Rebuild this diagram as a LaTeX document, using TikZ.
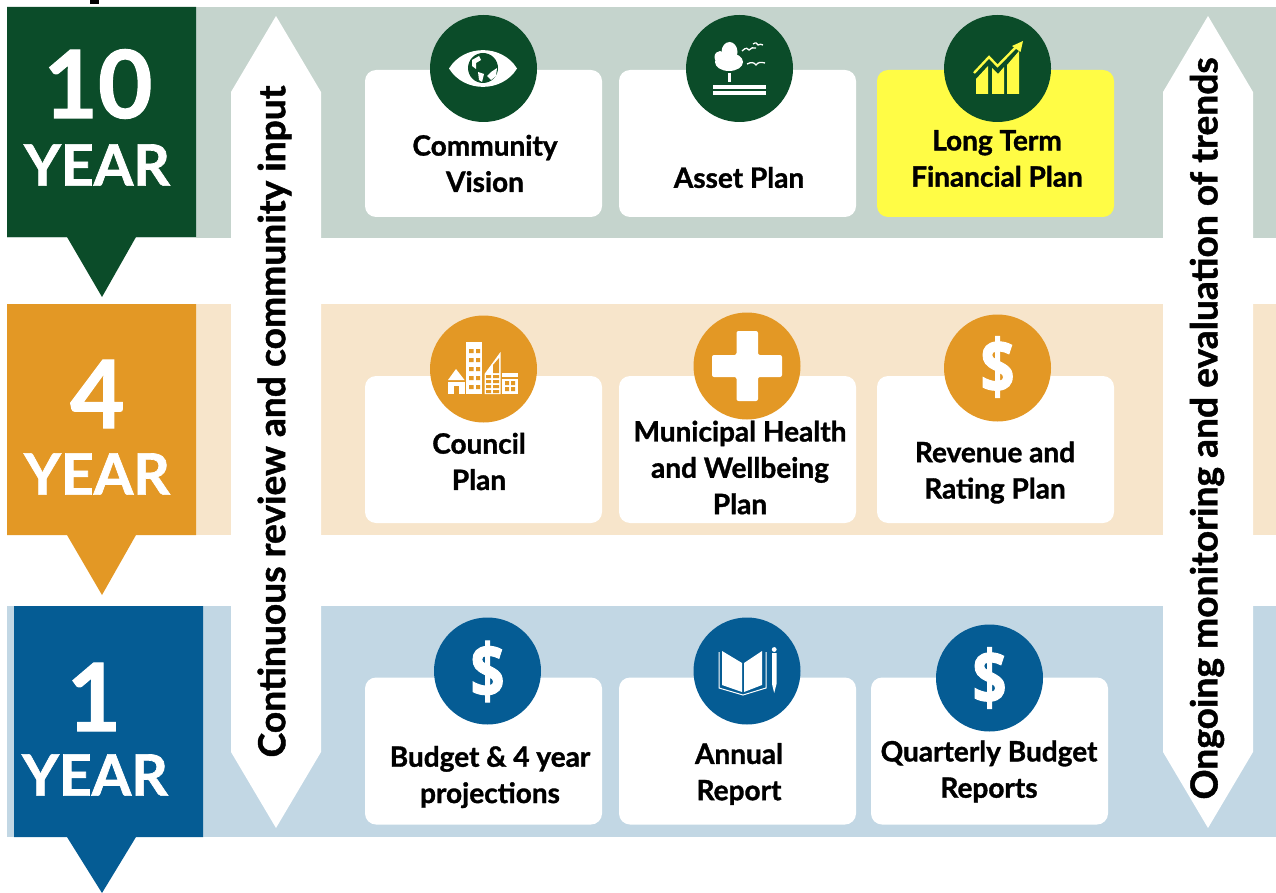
\documentclass[tikz,border=0pt]{standalone}
\usepackage{fontspec}
\setmainfont{Lato}[BoldFeatures={FakeBold=1.2}]
\newfontfamily\iconfont{Open Sans}[BoldFeatures={FakeBold=1.5}]
\definecolor{greendark}{HTML}{0B4C29}
\definecolor{greenpale}{HTML}{C5D4CD}
\definecolor{orangedark}{HTML}{E39825}
\definecolor{orangepale}{HTML}{F7E5CB}
\definecolor{bluedark}{HTML}{055C94}
\definecolor{bluepale}{HTML}{C2D7E4}
\definecolor{planyellow}{HTML}{FFFC45}
\tikzset{
    card/.style={fill=white, rounded corners=11pt, inner sep=0pt, minimum height=147pt, minimum width=237pt},
    badge/.style={circle, inner sep=0pt, minimum size=107pt},
    plantext/.style={font=\fontsize{28}{36.3}\selectfont\bfseries, align=center, inner sep=0pt, text=black},
    sidetext/.style={font=\fontsize{37.2}{40}\selectfont\bfseries, rotate=90, inner sep=0pt, text=black},
    yearnum/.style={font=\fontsize{94}{94}\selectfont\bfseries, text=white, inner sep=0pt},
    yearword/.style={font=\fontsize{57}{57}\selectfont\bfseries, text=white, inner sep=0pt},
    dollar/.style={font=\iconfont\fontsize{60}{60}\selectfont\bfseries, text=white, inner sep=0pt}
}
\begin{document}
\begin{tikzpicture}[x=1pt, y=-1pt]
    \useasboundingbox (0,0) rectangle (1276,893);
    \fill[black] (90,0) rectangle (99,4);

    % bands
    \fill[greenpale] (7,7) rectangle (1276,238);
    \fill[orangepale] (7,304) rectangle (1276,535);
    \fill[bluepale] (7,606) rectangle (1276,837);

    % year tags
    \fill[greendark] (7,7) -- (196,7) -- (196,237) -- (136,237) -- (102,297) -- (67,237) -- (7,237) -- cycle;
    \fill[orangedark] (7,304) -- (196,304) -- (196,535) -- (136,535) -- (102,595) -- (67,535) -- (7,535) -- cycle;
    \fill[bluedark] (14,606) -- (203,606) -- (203,837) -- (136,837) -- (102,893) -- (67,837) -- (14,837) -- cycle;
    \node[yearnum] (ten) at (98,84) {10};
    \node[yearword] (tenword) at (97,165) {YEAR};
    \node[yearnum] (four) at (97.5,394) {4};
    \node[yearword] (fourword) at (97,474) {YEAR};
    \node[yearnum] (one) at (94,697) {1};
    \node[yearword] (oneword) at (95,775) {YEAR};

    % side arrows
    \fill[white] (276,16) -- (321,92) -- (321,752) -- (276,828) -- (231,752) -- (231,92) -- cycle;
    \fill[white] (1208,16) -- (1253,92) -- (1253,752) -- (1208,828) -- (1163,752) -- (1163,92) -- cycle;
    \node[sidetext] (review) at (274.5,421.5) {Continuous review and community input};
    \node[sidetext] (monitor) at (1207,428.5) {Ongoing monitoring and evaluation of trends};

    % cards
    \node[card] (vision) at (483.5,143.5) {};
    \node[card] (asset) at (737.5,143.5) {};
    \node[card, fill=planyellow] (finance) at (995.5,143.5) {};
    \node[card] (council) at (483.5,449.5) {};
    \node[card] (health) at (737.5,449.5) {};
    \node[card] (revenue) at (995.5,449.5) {};
    \node[card] (budget) at (483.5,751) {};
    \node[card] (annual) at (737.5,751) {};
    \node[card] (quarterly) at (989.5,751) {};

    % card labels
    \node[plantext] (visionlabel) at (485,163.5) {Community\\Vision};
    \node[plantext] (assetlabel) at (739,177.5) {Asset Plan};
    \node[plantext] (financelabel) at (997,158.5) {Long Term\\Financial Plan};
    \node[plantext] (councillabel) at (479,461.5) {Council\\Plan};
    \node[plantext] (healthlabel) at (740,467.5) {Municipal Health\\and Wellbeing\\Plan};
    \node[plantext] (revenuelabel) at (995,472.5) {Revenue and\\Rating Plan};
    \node[plantext] (budgetlabel) at (490,777) {Budget \& 4 year\\projections};
    \node[plantext] (annuallabel) at (739,774) {Annual\\Report};
    \node[plantext] (quarterlylabel) at (989,771.5) {Quarterly Budget\\Reports};

    % badges
    \node[badge, fill=greendark] (visionbadge) at (483.5,68.5) {};
    \node[badge, fill=greendark] (assetbadge) at (739.5,68.5) {};
    \node[badge, fill=greendark] (financebadge) at (997.5,68.5) {};
    \node[badge, fill=orangedark] (councilbadge) at (483.5,369) {};
    \node[badge, fill=orangedark] (healthbadge) at (747,366) {};
    \node[badge, fill=orangedark] (revenuebadge) at (997.5,368) {};
    \node[badge, fill=bluedark] (budgetbadge) at (487.5,671) {};
    \node[badge, fill=bluedark] (annualbadge) at (747,671) {};
    \node[badge, fill=bluedark] (quarterlybadge) at (989.5,678) {};

    % eye
    \fill[white] (449,68.5) .. controls (464,44) and (502,44) .. (517,68.5) .. controls (502,93) and (464,93) .. cycle;
    \fill[greendark] (483,68) circle (15);
    \fill[white] (472,60) -- (479,56) -- (481,60) -- (476,63) -- (476,69) -- (472,66) -- cycle;
    \fill[white] (491,72) -- (497,68) -- (496,76) -- (491,80) -- (487,76) -- cycle;
    \fill[white] (478,72) -- (484,74) -- (482,82) -- (479,80) -- cycle;

    % tree
    \fill[white] (729.5,52) ellipse (8 and 10);
    \fill[white] (720,57) ellipse (5.5 and 6);
    \fill[white] (729,62) ellipse (14 and 9);
    \fill[white] (727.5,73) rectangle (731,82);
    \fill[white] (713,85) rectangle (766,89);
    \fill[white] (713,91) rectangle (766,95);
    \draw[white, line width=1.3pt] (742,51) .. controls (746,47) and (748,48) .. (749,50) .. controls (751,48) and (753,47) .. (756,48);
    \draw[white, line width=1.3pt] (753,44) .. controls (756,42) and (757,43) .. (758,45) .. controls (760,44) and (761,44) .. (763,45);
    \draw[white, line width=1.3pt] (747,64) .. controls (751,62) and (754,62) .. (756,65) .. controls (758,62) and (761,62) .. (765,63);

    % chart
    \fill[planyellow] (976,79) -- (988,66) -- (988,94) -- (976,94) -- cycle;
    \fill[planyellow] (992,68) -- (998,74) -- (1004,67) -- (1004,94) -- (992,94) -- cycle;
    \fill[planyellow] (1007,65) -- (1019,51) -- (1019,94) -- (1007,94) -- cycle;
    \draw[planyellow, line width=2.4pt] (974,73) -- (989,57) -- (997.5,66) -- (1018,45);
    \fill[planyellow] (1023,41) -- (1020.5,52) -- (1012,46) -- cycle;

    % buildings
    \fill[white] (448,380) -- (456,369) -- (464.5,380) -- cycle;
    \fill[white] (448,382) rectangle (465,394);
    \fill[orangedark] (454,386) rectangle (459,394);
    \fill[white] (466,342) rectangle (482,394);
    \foreach \wy in {349,358,367,376,385}
        \fill[orangedark] (469,\wy) rectangle (473.5,\wy+4) (476,\wy) rectangle (480,\wy+4);
    \fill[white] (484.5,394) -- (484.5,374) -- (500.5,352) -- (500.5,394) -- cycle;
    \foreach \wy in {375,380,385,390}
        \fill[orangedark] (486,\wy) rectangle (491,\wy+3) (493,\wy) rectangle (499,\wy+3);
    \fill[orangedark] (493,365) -- (499,358) -- (499,373) -- (493,373) -- cycle;
    \fill[white] (502,373) rectangle (518,377);
    \fill[white] (502,379) rectangle (518,394);
    \foreach \wy in {381,387}
        \fill[orangedark] (505,\wy) rectangle (509,\wy+4) (511,\wy) rectangle (515,\wy+4);

    % cross
    \fill[white, rounded corners=2pt] (736.5,331) -- (758,331) -- (758,355) -- (782,355) -- (782,377) -- (758,377) -- (758,401) -- (736.5,401) -- (736.5,377) -- (712,377) -- (712,355) -- (736.5,355) -- cycle;

    % dollars
    \node[dollar] (revenuedollar) at (997.5,367) {\scalebox{1}[1.25]{\$}};
    \node[dollar] (budgetdollar) at (487.5,671.5) {\scalebox{1}[1.25]{\$}};
    \node[dollar] (quarterlydollar) at (989.5,678) {\scalebox{1}[1.25]{\$}};

    % book
    \fill[white] (722,651) -- (742,663) -- (742,692) -- (722,685) -- cycle;
    \fill[white] (744,663) -- (762,651) -- (762,685) -- (744,692) -- cycle;
    \draw[white, line width=1pt] (719,652) -- (719,688) -- (743,695) -- (766,688) -- (766,652);
    \fill[white] (772,653) -- (776.5,653) -- (776.5,684) -- (774.2,693) -- (772,684) -- cycle;
    \fill[white] (774.2,649.5) circle (2.4);
\end{tikzpicture}
\end{document}
